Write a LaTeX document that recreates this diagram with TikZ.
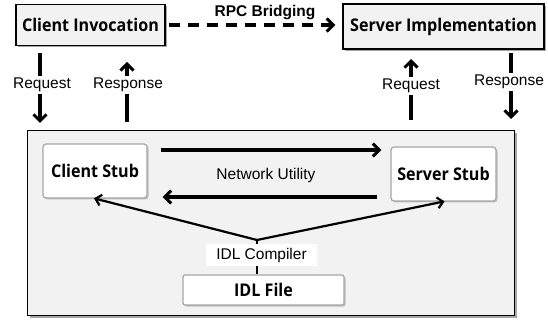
\documentclass[tikz,border=0pt]{standalone}
\usepackage{fontspec}
\setmainfont{Liberation Sans}
\newfontfamily\boldfont{Open Sans}[FakeStretch=0.92]
\usetikzlibrary{arrows.meta,shadows}
\tikzset{
  box/.style={draw=black, line width=1.4pt, fill=gray!10, inner sep=0pt,
    drop shadow={shadow xshift=2pt, shadow yshift=-2pt, fill=gray!70, opacity=1},
    font=\boldfont\bfseries\fontsize{17.5}{19}\selectfont},
  stub/.style={draw=gray!70, line width=1.2pt, fill=white, rounded corners=3pt, inner sep=0pt,
    drop shadow={shadow xshift=1.5pt, shadow yshift=-1.5pt, fill=gray!50, opacity=1},
    font=\boldfont\bfseries\fontsize{17.5}{19}\selectfont},
  arr/.style={line width=3.2pt, -{Straight Barb[length=6.5pt,width=13pt,line width=3pt]}},
  thin/.style={line width=2.2pt, -{Straight Barb[length=5.5pt,width=11pt,line width=2.2pt]}},
  lab/.style={fill=white, inner sep=2pt, font=\fontsize{15.5}{17}\selectfont},
}
\begin{document}
\begin{tikzpicture}[x=1pt,y=-1pt]
\useasboundingbox (0,0) rectangle (548,320);
% big container
\node[box, minimum width=487pt, minimum height=185pt, anchor=north west, fill=gray!10] (big) at (27,130) {};
% top boxes
\node[box, minimum width=149pt, minimum height=41pt] (ci) at (90.5,25) {Client Invocation};
\node[box, minimum width=201pt, minimum height=45pt] (si) at (443.5,26.5) {Server Implementation};
% stubs
\node[stub, minimum width=104pt, minimum height=54pt] (cs) at (95,171) {Client Stub};
\node[stub, minimum width=105pt, minimum height=54pt] (ss) at (443.5,174) {Server Stub};
\node[stub, rounded corners=2pt, minimum width=161pt, minimum height=30pt] (idl) at (263.5,290) {IDL File};
% IDL compiler
\coordinate (j) at (257,240);
\draw[line width=2.2pt] (j) -- (j |- idl.north);
\node[fill=white, inner sep=0pt, minimum width=111pt, minimum height=22pt, font=\fontsize{15.5}{17}\selectfont] (comp) at (261.5,255) {IDL Compiler};
\draw[thin, shorten >=-1pt] (j) -- (cs.south);
\draw[thin, shorten >=-1pt] (j) -- (ss.south);
% network utility
\draw[arr, shorten <=13pt, shorten >=9pt] (cs.east |- 0,150) -- (ss.west |- 0,150);
\draw[arr, shorten <=13pt, shorten >=15pt] (ss.west |- 0,197) -- (cs.east |- 0,197);
\node[font=\fontsize{15.5}{17}\selectfont] (nu) at (266,175) {Network Utility};
% RPC bridging
\draw[arr, dash pattern=on 11pt off 8pt, shorten <=3pt, shorten >=7pt] (ci.east) -- (si.west |- ci.east);
\node[font=\bfseries\fontsize{15.5}{17}\selectfont] (rpc) at (265,13) {RPC Bridging};
% client side request/response
\coordinate (rqa) at (40,53); \coordinate (rqb) at (40,123);
\draw[arr] (rqa) -- (rqb);
\node[lab] (rql) at (42,85) {Request};
\coordinate (rsa) at (127,122); \coordinate (rsb) at (127,62);
\draw[arr] (rsa) -- (rsb);
\node[lab] (rsl) at (128,85) {Response};
% server side
\coordinate (srqa) at (411,120); \coordinate (srqb) at (411,59);
\draw[arr] (srqa) -- (srqb);
\node[lab] (srql) at (411,86) {Request};
\coordinate (srsa) at (511,53); \coordinate (srsb) at (511,119);
\draw[arr] (srsa) -- (srsb);
\node[lab] (srsl) at (509,82) {Response};
\end{tikzpicture}
\end{document}
